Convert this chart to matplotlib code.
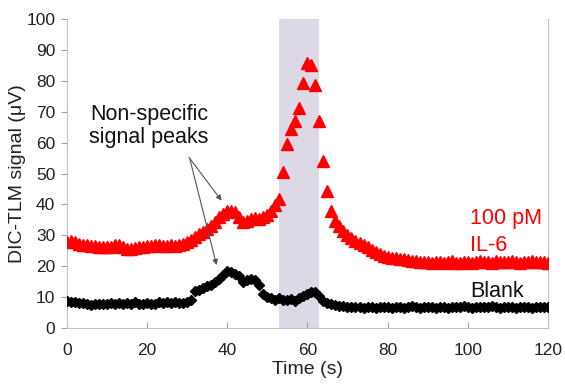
import numpy as np
import matplotlib.pyplot as plt

plt.rcParams['font.family'] = ['Liberation Sans', 'DejaVu Sans']

# time axis, one reading per second
time_s = np.arange(0, 121)

il6_100pM = [28.0, 28.2, 27.8, 27.3, 27.0, 26.8, 26.6, 26.4, 26.3, 26.2,
             26.1, 26.3, 26.9, 27.0, 26.2, 25.6, 25.6, 25.8, 26.2, 26.3,
             26.4, 26.7, 26.9, 26.8, 26.6, 26.7, 26.8, 26.6, 26.8, 27.2,
             27.8, 28.6, 29.5, 30.3, 31.2, 32.0, 32.9, 34.2, 35.8, 37.0,
             37.8, 38.0, 37.6, 35.8, 34.2, 34.8, 35.4, 35.6, 35.4, 35.8,
             36.6, 37.8, 39.8, 41.8, 50.5, 59.5, 64.5, 67.0, 71.2, 79.3,
             85.8, 85.2, 78.8, 67.0, 54.0, 44.5, 37.8, 34.5, 33.0, 31.5,
             30.2, 29.0, 28.2, 27.4, 26.8, 26.2, 25.4, 24.6, 24.0, 23.3,
             23.0, 22.7, 22.6, 22.4, 22.2, 21.9, 21.6, 21.6, 21.4, 21.5,
             21.3, 21.2, 21.5, 21.3, 21.1, 21.4, 21.6, 21.2, 21.0, 21.3,
             21.5, 21.2, 21.4, 21.7, 21.3, 21.5, 21.2, 21.6, 21.4, 21.3,
             21.5, 21.7, 21.4, 21.2, 21.5, 21.3, 21.6, 21.4, 21.3, 21.5,
             21.2]

blank = [8.6, 8.4, 8.3, 8.0, 8.2, 7.8, 7.6, 7.8, 7.7, 7.9,
         7.8, 8.0, 7.8, 8.0, 7.9, 8.1, 7.8, 8.3, 7.9, 7.8,
         8.0, 7.7, 7.9, 8.4, 8.0, 8.3, 8.1, 8.4, 8.2, 8.0,
         8.3, 9.2, 12.0, 12.4, 13.0, 13.6, 14.0, 14.8, 16.0, 17.2,
         18.6, 18.0, 17.4, 16.8, 15.0, 15.4, 15.8, 15.4, 14.0, 11.0,
         10.0, 9.6, 9.2, 9.6, 9.2, 9.0, 9.5, 8.8, 9.6, 10.4,
         11.0, 11.6, 11.8, 10.2, 8.8, 8.2, 7.8, 7.4, 7.2, 7.0,
         6.9, 6.8, 6.7, 6.9, 6.6, 6.8, 6.7, 6.6, 6.9, 6.7,
         6.8, 6.6, 6.7, 6.9, 6.6, 6.8, 7.0, 6.7, 6.6, 6.8,
         6.7, 6.9, 6.6, 6.7, 6.8, 6.6, 6.9, 6.7, 6.8, 7.0,
         6.8, 6.6, 6.7, 6.9, 6.8, 6.7, 7.0, 6.8, 6.6, 6.7,
         6.9, 6.8, 6.6, 6.7, 6.9, 6.8, 6.6, 6.7, 6.8, 6.7,
         6.8]

inject_window = (53, 63)

fig = plt.figure(figsize=(5.65, 3.87), dpi=100)
ax = fig.add_axes([0.1186, 0.1525, 0.851, 0.798])

ax.axvspan(inject_window[0], inject_window[1], color='#dcd8e6', zorder=0, lw=0)
ax.plot(time_s, il6_100pM, '^', color='#ff0000', ms=8.5, mec='#ff0000', zorder=3)
ax.plot(time_s, blank, 'D', color='black', ms=5.2, zorder=3)

ax.set_xlim(0, 120)
ax.set_ylim(0, 100)
ax.set_xticks(range(0, 121, 20))
ax.set_yticks(range(0, 101, 10))
ax.tick_params(axis='x', direction='in', length=4, color='#a0a0a0', labelsize=12.5, pad=11,
               labelcolor='#222222')
ax.tick_params(axis='y', direction='out', length=4, color='#a0a0a0', labelsize=12.5, pad=4.5,
               labelcolor='#222222')
for side in ['left', 'bottom', 'right']:
    ax.spines[side].set_color('#c0c0c0')
ax.spines['top'].set_visible(False)

ax.set_xlabel('Time (s)', fontsize=14, labelpad=2, color='#222222')
ax.set_ylabel('DIC-TLM signal (μV)', fontsize=14, labelpad=0, color='#222222')

ax.text(20.5, 65.5, 'Non-specific\nsignal peaks', fontsize=15.5, ha='center',
        va='center', linespacing=1.15, color='#111111')
ax.annotate('', xy=(39, 40.5), xytext=(30, 56),
            arrowprops=dict(arrowstyle='-|>', color='#555555', lw=0.8, mutation_scale=8))
ax.annotate('', xy=(37.5, 19.5), xytext=(30.5, 55.5),
            arrowprops=dict(arrowstyle='-|>', color='#555555', lw=0.8, mutation_scale=8))

ax.text(100.7, 35.3, '100 pM', color='#ff0000', fontsize=15.5, va='center')
ax.text(100.7, 26.6, 'IL-6', color='#ff0000', fontsize=15.5, va='center')
ax.text(100.7, 11.8, 'Blank', color='#111111', fontsize=15.5, va='center')

fig.savefig('out.png', dpi=100)
